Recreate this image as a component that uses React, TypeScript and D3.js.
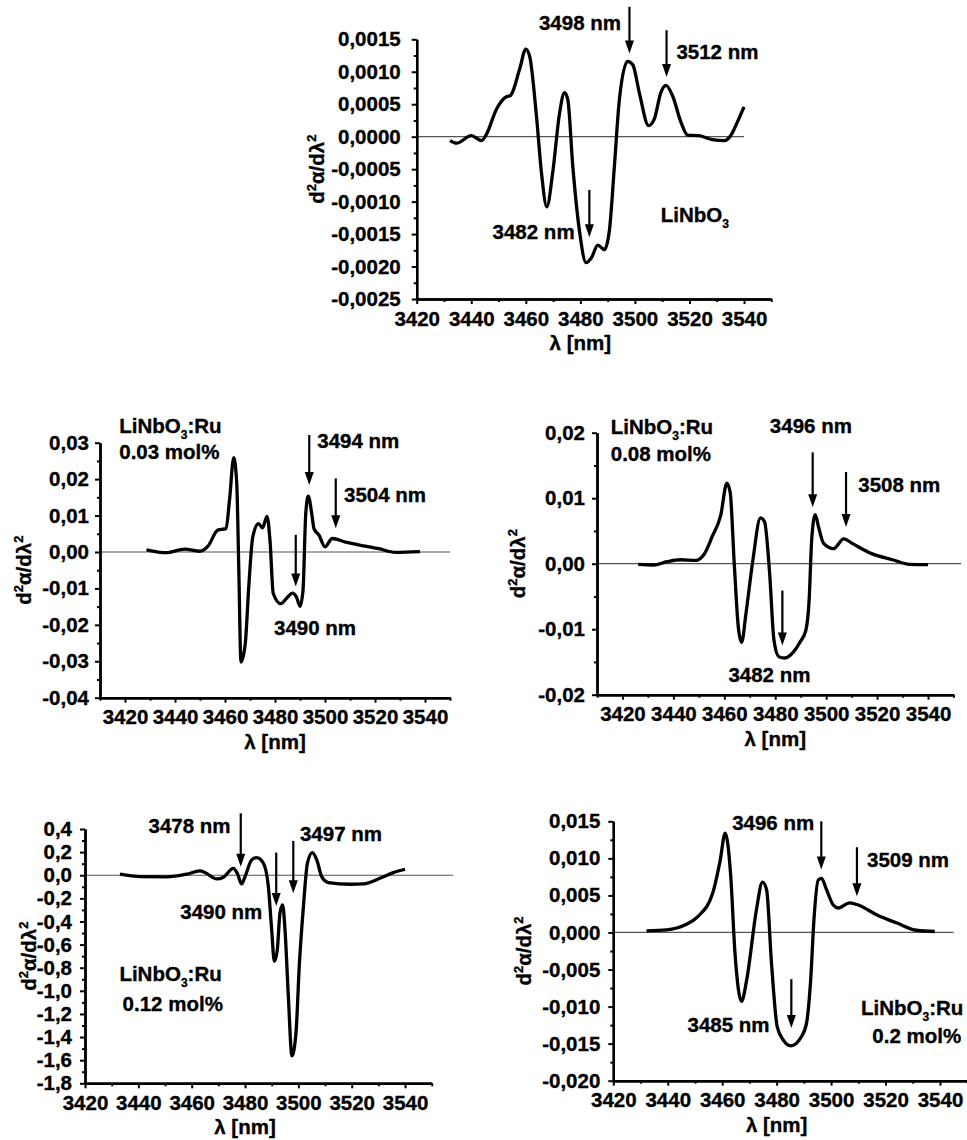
import { useEffect, useRef } from 'react';
import * as d3 from 'd3';

// LiNbO3 (pure)
const wlPure = [3432.2, 3434.6, 3440, 3443.8, 3445.6, 3449.2, 3452.3, 3454.5, 3457.8, 3460, 3461.4, 3463.9, 3465.7, 3467.7, 3469.9, 3472.4, 3474.2, 3475.4, 3477.2, 3479.7, 3482.1, 3484, 3486.4, 3488.8, 3490.6, 3492.5, 3494.3, 3497.3, 3499.2, 3501.6, 3505, 3507.1, 3509.5, 3511.4, 3513.8, 3516.9, 3519.3, 3523.5, 3528.4, 3532.7, 3535.1, 3537.5, 3540];
const d2Pure = [-0.00006, -0.0001, 0.000015, -0.00006, 0.00004, 0.00042, 0.0006, 0.00064, 0.00105, 0.00135, 0.00124, 0.00032, -0.00054, -0.00108, -0.00054, 0.00037, 0.00068, 0.00057, -0.00044, -0.00146, -0.00194, -0.00187, -0.00167, -0.00174, -0.00146, -0.00044, 0.00057, 0.00116, 0.00111, 0.00068, 0.00017, 0.00027, 0.00068, 0.00079, 0.00063, 0.00022, 0.000025, 0.000015, -0.000046, -0.00006, 0.000015, 0.00022, 0.00046];

// LiNbO3:Ru 0.03 mol%
const wlRu003 = [3428.6, 3436.6, 3443.9, 3449.8, 3453.2, 3457.1, 3460.4, 3461.8, 3463.5, 3464.7, 3465.5, 3466.4, 3468.1, 3469.5, 3471.1, 3473.4, 3475, 3476.8, 3478, 3479.3, 3482.3, 3485, 3487, 3488.6, 3490, 3491.2, 3492.3, 3493.3, 3494.7, 3495.6, 3497.6, 3500, 3502.9, 3508.2, 3516.2, 3521.5, 3528.1, 3538];
const d2Ru003 = [0.0006, -0.0002, 0.0008, 0.0002, 0.0016, 0.006, 0.0064, 0.0142, 0.0259, 0.0188, -0.0041, -0.0302, -0.0252, -0.0096, 0.0041, 0.0078, 0.0066, 0.0098, 0.0032, -0.0114, -0.0142, -0.0124, -0.0113, -0.0124, -0.0149, -0.0105, 0.0105, 0.0153, 0.0105, 0.0064, 0.0046, 0.0014, 0.0037, 0.0027, 0.0016, 0.0009, -0.0001, 0.0001];

// LiNbO3:Ru 0.08 mol%
const wlRu008 = [3426.2, 3432.2, 3437.5, 3442.8, 3448.7, 3452, 3455.3, 3458.6, 3461, 3462.3, 3463.9, 3465.5, 3466.8, 3468.5, 3471.2, 3474.2, 3475.8, 3477.8, 3479.5, 3481.4, 3483.8, 3487.1, 3489.7, 3492, 3493.3, 3494.3, 3495.7, 3497, 3499, 3502.9, 3506.9, 3510.2, 3518.1, 3526.1, 3532.7, 3540];
const d2Ru008 = [-0.0001, -0.0002, 0.0003, 0.0006, 0.0005, 0.0014, 0.0042, 0.0074, 0.0123, 0.0109, 0, -0.0097, -0.012, -0.0076, 0.0005, 0.007, 0.0064, -0.0015, -0.0117, -0.0142, -0.0144, -0.0135, -0.012, -0.0102, -0.0056, 0.0036, 0.0075, 0.0056, 0.0031, 0.0023, 0.0038, 0.0031, 0.0015, 0.0006, -0.0001, -0.00015];

// LiNbO3:Ru 0.12 mol%
const wlRu012 = [3433.1, 3440.6, 3450.6, 3458.1, 3463.1, 3465, 3469.4, 3471.9, 3475.6, 3477.1, 3478.75, 3480, 3482.5, 3484.4, 3486.9, 3488.75, 3490, 3491, 3492.1, 3493.1, 3494.1, 3495, 3496.25, 3497.6, 3499.1, 3500.4, 3501.9, 3503.4, 3505.25, 3506.9, 3508.75, 3511.25, 3519.4, 3524.4, 3530.6, 3535.6, 3540];
const d2Ru012 = [0.009, -0.012, -0.014, 0.009, 0.037, 0.023, -0.032, -0.017, 0.06, 0.017, -0.075, -0.012, 0.133, 0.153, 0.104, -0.098, -0.473, -0.746, -0.646, -0.329, -0.256, -0.473, -1.049, -1.562, -1.366, -0.761, -0.271, 0.104, 0.196, 0.133, -0.012, -0.063, -0.078, -0.075, -0.026, 0.023, 0.052];

// LiNbO3:Ru 0.2 mol%
const wlRu02 = [3432.2, 3439.6, 3446.3, 3451.2, 3456.5, 3459.2, 3461.1, 3463.1, 3464.7, 3467.1, 3469, 3472.6, 3474.8, 3476.3, 3478.1, 3480.2, 3482.4, 3485.2, 3489.2, 3491, 3492.5, 3493.7, 3495.3, 3496.5, 3498.3, 3500.8, 3502.6, 3506.9, 3510, 3516.7, 3524, 3531.4, 3538.1];
const d2Ru02 = [0.00022, 0.00036, 0.001, 0.0022, 0.0053, 0.0096, 0.0134, 0.0078, -0.0028, -0.0093, -0.0064, 0.0031, 0.0068, 0.0058, -0.0041, -0.0127, -0.0145, -0.0153, -0.014, -0.0122, -0.0064, 0.0017, 0.0071, 0.0073, 0.0058, 0.0037, 0.0033, 0.004, 0.0037, 0.0024, 0.0013, 0.0003, 0.00013];

// tick labels
const xTicks = [3420, 3440, 3460, 3480, 3500, 3520, 3540];
const xMinor = [3410, 3430, 3450, 3470, 3490, 3510, 3530, 3550];
const yTicksPure = [-0.0025, -0.002, -0.0015, -0.001, -0.0005, 0, 0.0005, 0.001, 0.0015];
const yTicksRu003 = [-0.04, -0.03, -0.02, -0.01, 0, 0.01, 0.02, 0.03];
const yTicksRu008 = [-0.02, -0.01, 0, 0.01, 0.02];
const yTicksRu012 = [-1.8, -1.6, -1.4, -1.2, -1, -0.8, -0.6, -0.4, -0.2, 0, 0.2, 0.4];
const yTicksRu02 = [-0.02, -0.015, -0.01, -0.005, 0, 0.005, 0.01, 0.015];

// arrows: [wavelength, top value, tip value]
const arrowsPure = [[3498, 0.002, 0.00128], [3511.6, 0.00164, 0.00092], [3483.3, -0.00082, -0.00155]];
const arrowsRu003 = [[3493.7, 0.0321, 0.0184], [3504.3, 0.0202, 0.0065], [3488.3, 0.0047, -0.0095]];
const arrowsRu008 = [[3494.7, 0.017, 0.0086], [3507.8, 0.014, 0.0056], [3482.8, -0.0041, -0.0125]];
const arrowsRu012 = [[3478.4, 0.536, 0.074], [3491.7, 0.196, -0.266], [3498.1, 0.297, -0.156]];
const arrowsRu02 = [[3496.4, 0.015, 0.0085], [3509.5, 0.0115, 0.0049], [3485.4, -0.0063, -0.0129]];

// text notes: [text, wavelength, value, anchor]
const notesPure = [['3498 nm', 3494.9, 0.00175, 'end'], ['3512 nm', 3515.2, 0.00131, 'start'], ['3482 nm', 3477.9, -0.00147, 'end'], ['LiNbO3', 3509.5, -0.0012, 'start']];
const notesRu003 = [['3494 nm', 3496.9, 0.0306, 'start'], ['3504 nm', 3507.6, 0.0158, 'start'], ['3490 nm', 3479.6, -0.0208, 'start'], ['LiNbO3:Ru', 3417.7, 0.0346, 'start'], ['0.03 mol%', 3417.7, 0.0275, 'start']];
const notesRu008 = [['3496 nm', 3494, 0.021, 'middle'], ['3508 nm', 3512.6, 0.012, 'start'], ['3482 nm', 3461.6, -0.017, 'start'], ['LiNbO3:Ru', 3415.4, 0.0209, 'start'], ['0.08 mol%', 3415.4, 0.0168, 'start']];
const notesRu012 = [['3478 nm', 3474.6, 0.43, 'end'], ['3490 nm', 3486.5, -0.32, 'end'], ['3497 nm', 3500.6, 0.355, 'start'], ['LiNbO3:Ru', 3432.9, -0.854, 'start'], ['0.12 mol%', 3434.1, -1.113, 'start']];
const notesRu02 = [['3496 nm', 3493.8, 0.0148, 'end'], ['3509 nm', 3513.2, 0.0098, 'start'], ['3485 nm', 3477.4, -0.0124, 'end'], ['LiNbO3:Ru', 3548.6, -0.0101, 'end'], ['0.2 mol%', 3547.8, -0.014, 'end']];

const FONT = '"Liberation Sans", Arial, sans-serif';
const TICK_SIZE = 20.5;

const panels = [
  { wl: wlPure, d2: d2Pure, yTicks: yTicksPure, digits: 4, xDomain: [3420, 3550], frame: [416.7, 39.3, 771.3, 299], zeroEnd: 3540, gap: 11, titleDx: 100, arrows: arrowsPure, notes: notesPure },
  { wl: wlRu003, d2: d2Ru003, yTicks: yTicksRu003, digits: 2, xDomain: [3410, 3550], frame: [100, 442.7, 450, 697.7], zeroEnd: 3550, gap: 6, titleDx: 76, arrows: arrowsRu003, notes: notesRu003 },
  { wl: wlRu008, d2: d2Ru008, yTicks: yTicksRu008, digits: 2, xDomain: [3410, 3550], frame: [597, 432.7, 953.5, 694.7], zeroEnd: 3553, gap: 7, titleDx: 79, arrows: arrowsRu008, notes: notesRu008 },
  { wl: wlRu012, d2: d2Ru012, yTicks: yTicksRu012, digits: 1, xDomain: [3420, 3550], frame: [85, 829, 431.7, 1083.3], zeroEnd: 3558, gap: 8, titleDx: 56, arrows: arrowsRu012, notes: notesRu012 },
  { wl: wlRu02, d2: d2Ru02, yTicks: yTicksRu02, digits: 3, xDomain: [3420, 3550], frame: [613.3, 821.3, 967.2, 1080.7], zeroEnd: 3545, gap: 8, titleDx: 89, arrows: arrowsRu02, notes: notesRu02 },
];

const locale = d3.formatLocale({ decimal: ',', thousands: '.', grouping: [3], currency: ['', ''], minus: '-' });

function boldText(sel, size) {
  sel
    .attr('font-family', FONT)
    .attr('font-size', size)
    .attr('font-weight', 'bold')
    .attr('fill', '#000')
    .attr('stroke', '#000')
    .attr('stroke-width', 0.35);
}

function styleAxis(sel) {
  sel.attr('font-family', FONT).attr('font-size', TICK_SIZE).attr('font-weight', 'bold');
  sel.select('.domain').attr('stroke', '#000').attr('stroke-width', 2.4);
  sel.selectAll('.tick line').attr('stroke', '#000').attr('stroke-width', 2);
  sel.selectAll('.tick text').call(boldText, TICK_SIZE);
}

function addLabel(text, str) {
  // LiNbO3 gets a subscript 3
  if (str.startsWith('LiNbO3')) {
    text.append('tspan').text('LiNbO');
    text.append('tspan').attr('font-size', 12).attr('dy', 6).text('3');
    const rest = str.slice(6);
    if (rest) text.append('tspan').attr('dy', -6).text(rest);
  } else {
    text.text(str);
  }
}

export default function App() {
  const svgRef = useRef(null);

  useEffect(() => {
    const svg = d3.select(svgRef.current);
    svg.selectAll('*').remove();

    panels.forEach((p) => {
      const [left, top, right, bottom] = p.frame;
      const x = d3.scaleLinear().domain(p.xDomain).range([left, right]);
      const y = d3
        .scaleLinear()
        .domain([p.yTicks[0], p.yTicks[p.yTicks.length - 1]])
        .range([bottom, top]);
      const g = svg.append('g');

      // zero line
      g.append('line')
        .attr('x1', left)
        .attr('x2', x(p.zeroEnd))
        .attr('y1', y(0))
        .attr('y2', y(0))
        .attr('stroke', '#555')
        .attr('stroke-width', 1.2);

      // curve
      const line = d3
        .line()
        .x((d, i) => x(p.wl[i]))
        .y((d) => y(d))
        .curve(d3.curveMonotoneX);
      g.append('path')
        .attr('d', line(p.d2))
        .attr('fill', 'none')
        .attr('stroke', '#000')
        .attr('stroke-width', 3.3)
        .attr('stroke-linejoin', 'round');

      // x axis
      const minorX = xMinor.filter((v) => v >= p.xDomain[0] && v <= p.xDomain[1]);
      g.append('g')
        .attr('transform', `translate(0,${bottom})`)
        .call(d3.axisBottom(x).tickValues(minorX).tickSize(3).tickSizeOuter(0).tickFormat(() => ''))
        .call(styleAxis);
      g.append('g')
        .attr('transform', `translate(0,${bottom})`)
        .call(d3.axisBottom(x).tickValues(xTicks).tickSize(5).tickSizeOuter(0).tickPadding(7).tickFormat(d3.format('d')))
        .call(styleAxis);

      // y axis
      const step = p.yTicks[1] - p.yTicks[0];
      const minorY = p.yTicks.slice(1).map((v) => v - step / 2);
      g.append('g')
        .attr('transform', `translate(${left},0)`)
        .call(d3.axisLeft(y).tickValues(minorY).tickSize(3).tickSizeOuter(0).tickFormat(() => ''))
        .call(styleAxis);
      g.append('g')
        .attr('transform', `translate(${left},0)`)
        .call(
          d3
            .axisLeft(y)
            .tickValues(p.yTicks)
            .tickSize(5)
            .tickSizeOuter(0)
            .tickPadding(p.gap)
            .tickFormat((v) => locale.format(`.${p.digits}f`)(v))
        )
        .call(styleAxis);

      // axis titles
      g.append('text')
        .attr('x', x(3480))
        .attr('y', bottom + 44)
        .attr('dy', '0.35em')
        .attr('text-anchor', 'middle')
        .call(boldText, 20.5)
        .text('λ [nm]');

      const yt = g
        .append('text')
        .attr('transform', `translate(${left - p.titleDx},${(top + bottom) / 2}) rotate(-90)`)
        .attr('dy', '0.35em')
        .attr('text-anchor', 'middle')
        .call(boldText, 20.5);
      yt.append('tspan').text('d');
      yt.append('tspan').attr('font-size', 13).attr('dy', -8).text('2');
      yt.append('tspan').attr('dy', 8).text('α/dλ');
      yt.append('tspan').attr('font-size', 13).attr('dy', -8).text('2');

      // arrows
      p.arrows.forEach(([wl, y0, y1]) => {
        const ax = x(wl);
        const tip = y(y1);
        g.append('line')
          .attr('x1', ax)
          .attr('x2', ax)
          .attr('y1', y(y0))
          .attr('y2', tip - 8)
          .attr('stroke', '#000')
          .attr('stroke-width', 2.2);
        g.append('path')
          .attr('d', `M${ax - 4.5},${tip - 13}L${ax + 4.5},${tip - 13}L${ax},${tip}Z`)
          .attr('fill', '#000');
      });

      // notes
      p.notes.forEach(([str, wl, v, anchor]) => {
        const t = g
          .append('text')
          .attr('x', x(wl))
          .attr('y', y(v))
          .attr('dy', '0.35em')
          .attr('text-anchor', anchor)
          .call(boldText, 20.5);
        addLabel(t, str);
      });
    });
  }, []);

  return (
    <div className="chart">
      <svg
        ref={svgRef}
        width="967"
        height="1140"
        style={{ position: 'absolute', left: 0, top: 0, background: '#fff' }}
      />
    </div>
  );
}
